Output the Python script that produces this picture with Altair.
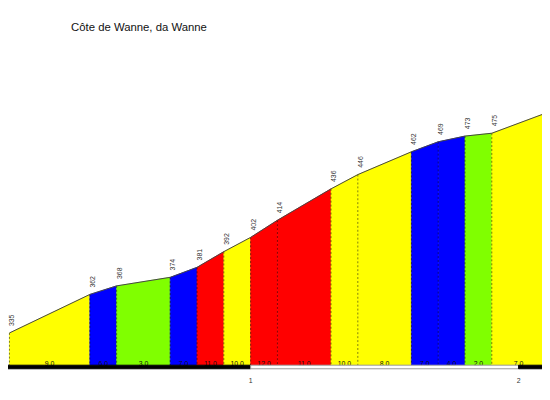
import altair as alt
import pandas as pd

TITLE = "Côte de Wanne, da Wanne"
# segment boundaries (km) and elevations (m)
KM = [0.1, 0.4, 0.5, 0.7, 0.8, 0.9, 1.0, 1.1, 1.3, 1.4, 1.6, 1.7, 1.8, 1.9, 2.1]
ELEV = [335, 362, 368, 374, 381, 392, 402, 414, 436, 446, 462, 469, 473, 475, 489]
# gradient (%) of each segment and its difficulty class
GRAD = [9.0, 6.0, 3.0, 7.0, 11.0, 10.0, 12.0, 11.0, 10.0, 8.0, 7.0, 4.0, 2.0, 7.0]
CLASS = ["C", "B", "A", "B", "D", "C", "D", "D", "C", "C", "B", "B", "A", "C"]
# km tick labels and alternating km bands
KM_TICKS = [1, 2]
BAND_START = [0, 1, 2]
BAND_END = [1, 2, 3]
BAND_SHADE = ["dark", "light", "dark"]

BASE = 312.4
BAR_BOTTOM = 309.9
GRAD_LABEL_ELEV = 313.4
KM_LABEL_ELEV = 301.2

FONT = "Liberation Sans"

xs = alt.Scale(domain=[0.0946, 2.0873], nice=False, zero=False)
ys = alt.Scale(domain=[295.6, 560.8], nice=False, zero=False)
cs = alt.Scale(domain=["A", "B", "C", "D"],
               range=["#80ff00", "#0000ff", "#ffff00", "#ff0000"])

rows = []
for i, g in enumerate(GRAD):
    rows.append({"seg": i, "km": KM[i], "elev": ELEV[i], "grad": g, "cls": CLASS[i]})
    rows.append({"seg": i, "km": KM[i + 1], "elev": ELEV[i + 1], "grad": g, "cls": CLASS[i]})
area_df = pd.DataFrame(rows)

pts_df = pd.DataFrame({"km": KM, "elev": ELEV})
mid_df = pd.DataFrame({
    "mid": [(KM[i] + KM[i + 1]) / 2 for i in range(len(GRAD))],
    "grad": GRAD,
})
tick_df = pd.DataFrame({"km": KM_TICKS})
band_df = pd.DataFrame({"start": BAND_START, "end": BAND_END, "shade": BAND_SHADE})
title_df = pd.DataFrame({"t": [TITLE]})

X = lambda f: alt.X(f, type="quantitative", scale=xs, axis=None)
Y = lambda f: alt.Y(f, type="quantitative", scale=ys, axis=None)

areas = alt.Chart(area_df).mark_area(clip=True, strokeWidth=0.6).encode(
    x=X("km"),
    y=Y("elev"),
    y2=alt.datum(BASE),
    color=alt.Color("cls:N", scale=cs, legend=None),
    stroke=alt.Stroke("cls:N", scale=cs, legend=None),
    detail="seg:N",
)

rules = alt.Chart(pts_df).mark_rule(
    strokeDash=[2, 2], color="black", opacity=0.5, strokeWidth=1, clip=True
).encode(x=X("km"), y=Y("elev"), y2=alt.datum(BASE))

line = alt.Chart(pts_df).mark_line(color="#444444", strokeWidth=1, clip=True).encode(
    x=X("km"), y=Y("elev")
)

elev_labels = alt.Chart(pts_df).transform_filter(alt.datum.km < 2.05).mark_text(
    angle=270, align="left", baseline="middle", dx=7, dy=3,
    fontSize=7, font=FONT, color="#333333"
).encode(x=X("km"), y=Y("elev"), text=alt.Text("elev:Q", format="d"))

grad_labels = alt.Chart(mid_df).mark_text(
    baseline="middle", fontSize=7, font=FONT, color="#111111"
).encode(x=X("mid"), y=alt.datum(GRAD_LABEL_ELEV),
         text=alt.Text("grad:Q", format=".1f"))

is_dark = alt.datum.shade == "dark"
bands = alt.Chart(band_df).mark_rect(clip=True, strokeWidth=1).encode(
    x=X("start"), x2="end",
    y=alt.datum(BASE), y2=alt.datum(BAR_BOTTOM),
    fill=alt.condition(is_dark, alt.value("#000000"), alt.value("#ffffff")),
    stroke=alt.condition(is_dark, alt.value("#000000"), alt.value("#999999")),
)

km_labels = alt.Chart(tick_df).mark_text(
    baseline="middle", fontSize=7, font=FONT, color="#333333"
).encode(x=X("km"), y=alt.datum(KM_LABEL_ELEV), text=alt.Text("km:Q", format="d"))

title = alt.Chart(title_df).mark_text(
    align="left", baseline="middle", fontSize=11.5, font=FONT, color="#111111"
).encode(x=alt.value(64), y=alt.value(17), text="t:N")

chart = alt.layer(areas, rules, line, elev_labels, grad_labels, bands, km_labels, title).properties(
    width=542, height=384, padding=0, autosize="none", background="white"
).configure_view(stroke=None)

chart.save("out.html", embed_options={"renderer": "svg", "actions": False})
